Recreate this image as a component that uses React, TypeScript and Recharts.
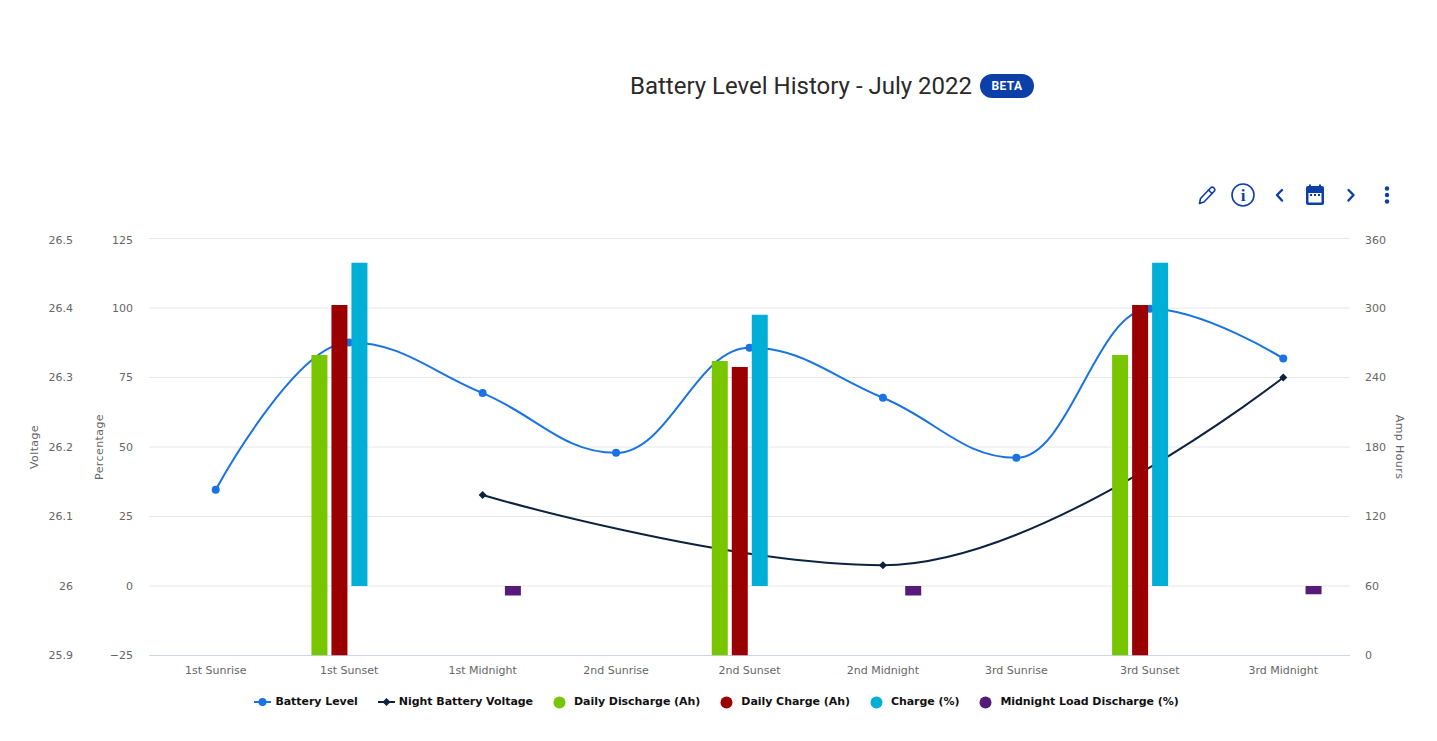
import React from 'react';
import { ComposedChart, Line, Bar, XAxis, YAxis, CartesianGrid, Legend } from 'recharts';

const categories = ['1st Sunrise', '1st Sunset', '1st Midnight', '2nd Sunrise', '2nd Sunset', '2nd Midnight', '3rd Sunrise', '3rd Sunset', '3rd Midnight'];
const batteryLevel = [34.6, 87.6, 69.4, 47.9, 85.7, 67.7, 46.1, 99.7, 81.8];
const nightVoltage = [null, null, 26.131, null, null, 26.03, null, null, 26.3];
const dailyDischarge = [null, 259.5, null, null, 254.3, null, null, 259.5, null];
const dailyCharge = [null, 302.6, null, null, 249, null, null, 302.6, null];
const chargePct = [null, 116.3, null, null, 97.6, null, null, 116.3, null];
const midnightLoad = [null, null, -3.4, null, null, -3.4, null, null, -3];
const voltageTicks = [25.9, 26, 26.1, 26.2, 26.3, 26.4, 26.5];
const percentTicks = [-25, 0, 25, 50, 75, 100, 125];
const ampTicks = [0, 60, 120, 180, 240, 300, 360];

const data = categories.map((name, i) => ({
  name,
  battery: batteryLevel[i],
  night: nightVoltage[i],
  discharge: dailyDischarge[i],
  charge: dailyCharge[i],
  pct: chargePct[i],
  load: midnightLoad[i],
}));

const BLUE = '#1a73e3';
const NAVY = '#0c2340';
const GREEN = '#78c600';
const RED = '#9b0000';
const CYAN = '#00afd6';
const PURPLE = '#561b78';
const ICON = '#0d3fa8';
const FONT = '"DejaVu Sans", sans-serif';

const legendItems = [
  { label: 'Battery Level', color: BLUE, kind: 'circle' },
  { label: 'Night Battery Voltage', color: NAVY, kind: 'diamond' },
  { label: 'Daily Discharge (Ah)', color: GREEN, kind: 'dot' },
  { label: 'Daily Charge (Ah)', color: RED, kind: 'dot' },
  { label: 'Charge (%)', color: CYAN, kind: 'dot' },
  { label: 'Midnight Load Discharge (%)', color: PURPLE, kind: 'dot' },
];

// Smooth spline through the points, using 1.5 smoothing and clamped extremes.
function splineCurve(context: any) {
  let pts: [number, number][] = [];
  return {
    areaStart() {},
    areaEnd() {},
    lineStart() { pts = []; },
    point(x: number, y: number) { pts.push([+x, +y]); },
    lineEnd() {
      if (!pts.length) return;
      const n = pts.length;
      const s = 1.5, d = 2.5;
      const left: [number, number][] = pts.map((p) => [p[0], p[1]]);
      const right: [number, number][] = pts.map((p) => [p[0], p[1]]);
      for (let i = 1; i < n - 1; i++) {
        const [px, py] = pts[i];
        const [lx, ly] = pts[i - 1];
        const [nx, ny] = pts[i + 1];
        const lcx = (s * px + lx) / d;
        let lcy = (s * py + ly) / d;
        const rcx = (s * px + nx) / d;
        let rcy = (s * py + ny) / d;
        const corr = ((rcy - lcy) * (rcx - px)) / (rcx - lcx) + py - rcy;
        lcy += corr;
        rcy += corr;
        if (lcy > ly && lcy > py) { lcy = Math.max(ly, py); rcy = 2 * py - lcy; }
        else if (lcy < ly && lcy < py) { lcy = Math.min(ly, py); rcy = 2 * py - lcy; }
        if (rcy > ny && rcy > py) { rcy = Math.max(ny, py); lcy = 2 * py - rcy; }
        else if (rcy < ny && rcy < py) { rcy = Math.min(ny, py); lcy = 2 * py - rcy; }
        left[i] = [lcx, lcy];
        right[i] = [rcx, rcy];
      }
      context.moveTo(pts[0][0], pts[0][1]);
      for (let i = 1; i < n; i++) {
        context.bezierCurveTo(right[i - 1][0], right[i - 1][1], left[i][0], left[i][1], pts[i][0], pts[i][1]);
      }
    },
  };
}

const Diamond = (props: any) => {
  const { cx, cy, index } = props;
  if (cx == null || cy == null || props.value == null) return <g key={index} />;
  const r = 4;
  return <path key={index} d={`M${cx} ${cy - r}L${cx + r} ${cy}L${cx} ${cy + r}L${cx - r} ${cy}Z`} fill={NAVY} />;
};

const ChartLegend = () => (
  <div style={{ display: 'flex', justifyContent: 'center', gap: 20, fontFamily: FONT, fontSize: 11, fontWeight: 700, letterSpacing: -0.05, color: '#111', whiteSpace: 'nowrap', lineHeight: '16px' }}>
    {legendItems.map((it) => (
      <span key={it.label} style={{ display: 'inline-flex', alignItems: 'center', gap: it.kind === 'dot' ? 8 : 4 }}>
        {it.kind === 'dot' ? (
          <svg width={13} height={13}><circle cx={6.5} cy={6.5} r={6} fill={it.color} /></svg>
        ) : (
          <svg width={17} height={10}>
            <line x1={0} x2={17} y1={5} y2={5} stroke={it.color} strokeWidth={2} />
            {it.kind === 'circle' ? <circle cx={8.5} cy={5} r={4} fill={it.color} /> : <path d="M8.5 1L12.5 5L8.5 9L4.5 5Z" fill={it.color} />}
          </svg>
        )}
        <span>{it.label}</span>
      </span>
    ))}
  </div>
);

const TICK_COLOR = '#666';
const tickStyle = { fontFamily: FONT, fontSize: 11, fill: TICK_COLOR };
const axisLabelStyle = { fontFamily: FONT, fontSize: 11, fill: TICK_COLOR, textAnchor: 'middle' as const, letterSpacing: 0.4 };
const fmtMinus = (v: number) => String(v).replace('-', '\u2212');

// Value-axis tick whose topmost label sits slightly below its gridline.
const ValueTick = (props: any) => {
  const { x, y, payload, textAnchor, top } = props;
  const shifted = payload.value === top;
  return (
    <text x={x} y={y + (shifted ? 2 : 0)} dy="0.355em" textAnchor={textAnchor} {...tickStyle}>
      {fmtMinus(payload.value)}
    </text>
  );
};

const Icons = () => (
  <svg width={1437} height={40} style={{ position: 'absolute', left: 0, top: 175 }}>
    <g fill="none" stroke={ICON} strokeWidth={1.6} strokeLinejoin="round" strokeLinecap="round">
      <path d="M1199.5 28.5l1-5 10-10.5c1-1 2.5-1 3.5 0s1 2.5 0 3.5l-10 10.5z" />
      <path d="M1208.5 15l3.5 3.5" />
      <circle cx={1243} cy={20} r={11} />
      <path d="M1282 15l-5 5 5 5.5M1348.5 15l5 5-5 5.5" strokeWidth={2.4} />
    </g>
    <text x={1243} y={26} textAnchor="middle" fontFamily="'Liberation Serif', serif" fontWeight={700} fontSize={17} fill={ICON}>i</text>
    <rect x={1306} y={11} width={18} height={19} rx={2} fill={ICON} />
    <rect x={1308.5} y={18} width={13} height={9.5} fill="#fff" />
    <path d="M1310 9.5v4M1320 9.5v4" stroke={ICON} strokeWidth={2} />
    <rect x={1310} y={19} width={2} height={2} fill={ICON} />
    <rect x={1314} y={19} width={2} height={2} fill={ICON} />
    <rect x={1318} y={19} width={2} height={2} fill={ICON} />
    <circle cx={1387} cy={13.5} r={2.2} fill={ICON} />
    <circle cx={1387} cy={20} r={2.2} fill={ICON} />
    <circle cx={1387} cy={26.5} r={2.2} fill={ICON} />
  </svg>
);

export default function App() {
  return (
    <div style={{ position: 'absolute', left: 0, top: 0, width: 1437, height: 741, background: '#fff', overflow: 'hidden' }}>
      <div style={{ position: 'absolute', left: 630, top: 70, height: 32, lineHeight: '32px', fontFamily: 'Roboto, sans-serif', fontSize: 24, color: '#2a2a2a', whiteSpace: 'nowrap' }}>
        Battery Level History - July 2022
      </div>
      <div style={{ position: 'absolute', left: 980, top: 74, width: 54, height: 24, borderRadius: 12, background: ICON, color: '#fff', fontFamily: 'Roboto, sans-serif', fontWeight: 700, fontSize: 12, lineHeight: '24px', textAlign: 'center', letterSpacing: 0.4 }}>
        BETA
      </div>
      <Icons />
      <ComposedChart
        width={1437}
        height={741}
        data={data}
        barSize={16}
        barGap={4}
        margin={{ top: 238.5, right: 27, bottom: 39.5, left: 29 }}
      >
        <CartesianGrid yAxisId="pct" vertical={false} stroke="#e6e6e6" syncWithTicks />
        <XAxis dataKey="name" height={30} tickLine={false} tickSize={0} stroke="#ccd6eb" tick={tickStyle} tickMargin={11} interval={0} />
        <YAxis yAxisId="pct" width={60} domain={[-25, 125]} ticks={percentTicks} axisLine={false} tickLine={false} tickSize={0} tick={<ValueTick top={125} />} tickMargin={16} interval={0} allowDataOverflow
          label={{ value: 'Percentage', angle: -90, position: 'insideLeft', offset: 10, style: axisLabelStyle }} />
        <YAxis yAxisId="volt" width={60} domain={[25.9, 26.5]} ticks={voltageTicks} axisLine={false} tickLine={false} tickSize={0} tick={<ValueTick top={26.5} />} tickMargin={16} interval={0} allowDataOverflow
          label={{ value: 'Voltage', angle: -90, position: 'insideLeft', offset: 5, style: axisLabelStyle }} />
        <YAxis yAxisId="amp" orientation="right" width={60} domain={[0, 360]} ticks={ampTicks} axisLine={false} tickLine={false} tickSize={0} tick={<ValueTick top={360} />} tickMargin={15} interval={0} allowDataOverflow
          label={{ value: 'Amp Hours', angle: 90, position: 'insideRight', offset: 10, style: axisLabelStyle }} />
        <Line yAxisId="pct" dataKey="battery" name="Battery Level" type={splineCurve as any} stroke={BLUE} strokeWidth={2} dot={{ r: 4, fill: BLUE, stroke: BLUE, strokeWidth: 0 }} activeDot={false} isAnimationActive={false} />
        <Line yAxisId="volt" dataKey="night" name="Night Battery Voltage" type={splineCurve as any} stroke={NAVY} strokeWidth={2} connectNulls dot={<Diamond />} activeDot={false} isAnimationActive={false} />
        <Bar yAxisId="amp" dataKey="discharge" name="Daily Discharge (Ah)" fill={GREEN} isAnimationActive={false} zIndex={800} />
        <Bar yAxisId="amp" dataKey="charge" name="Daily Charge (Ah)" fill={RED} isAnimationActive={false} zIndex={800} />
        <Bar yAxisId="pct" dataKey="pct" name="Charge (%)" fill={CYAN} isAnimationActive={false} zIndex={800} />
        <Bar yAxisId="pct" dataKey="load" name="Midnight Load Discharge (%)" fill={PURPLE} isAnimationActive={false} zIndex={800} />
        <Legend content={<ChartLegend />} wrapperStyle={{ left: 0, width: 1433, top: 694, bottom: 'auto' }} />
      </ComposedChart>
    </div>
  );
}
